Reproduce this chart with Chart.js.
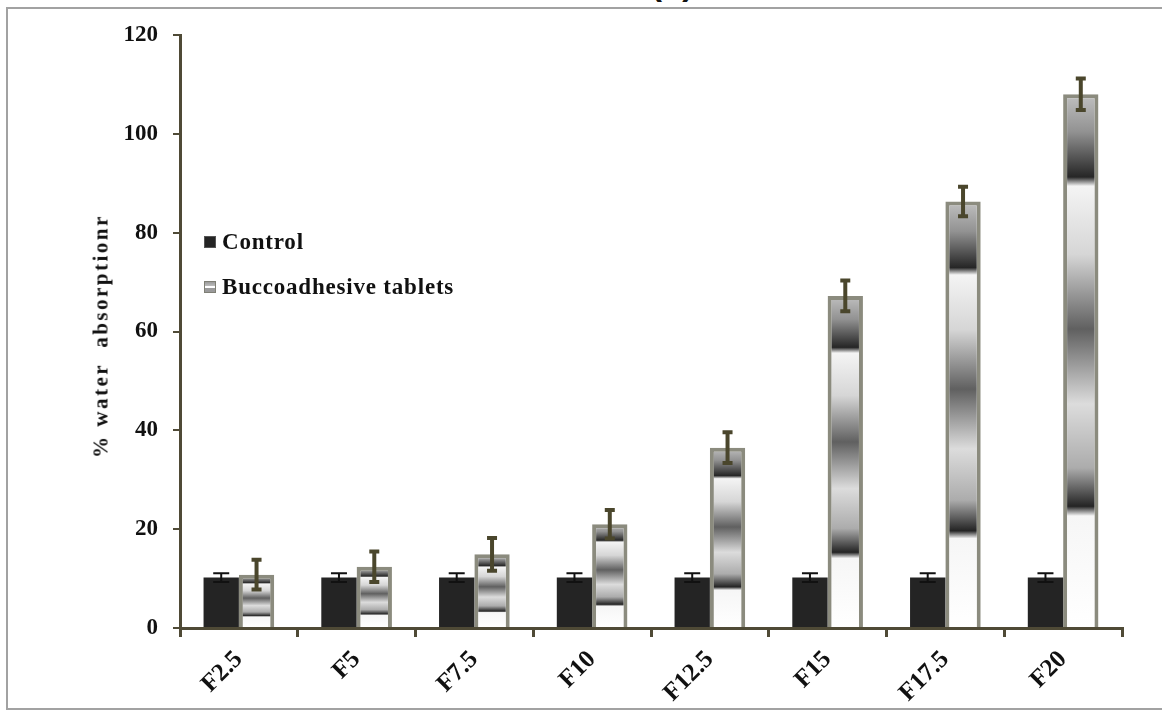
<!DOCTYPE html>
<html>
<head>
<meta charset="utf-8">
<script src="https://cdn.jsdelivr.net/npm/chart.js@4.4.0/dist/chart.umd.min.js"></script>
<style>
  html, body { margin: 0; padding: 0; background: #fff; }
  body { width: 1162px; height: 713px; position: relative; overflow: hidden; }
  #frame { position: absolute; left: 6px; top: 7px; width: 1170px; height: 703px; border: 2px solid #a2a2a2; box-sizing: border-box; }
  #panel { position: absolute; left: 651px; top: -30px; font: bold 33px "Liberation Sans", Arial, sans-serif; line-height: 28px; color: #111; }
  #wrap { position: absolute; left: 0; top: 0; width: 1162px; height: 713px; }
  #ytitle { position: absolute; left: 101px; top: 336px; transform: translate(-50%, -50%) rotate(-90deg);
    white-space: pre; font: bold 21px "Liberation Serif", "Times New Roman", serif; letter-spacing: 2.5px; color: #111; }
  .leg { position: absolute; left: 204px; font: bold 23px "Liberation Serif", "Times New Roman", serif; letter-spacing: 0.8px; color: #111; white-space: nowrap; }
  .leg i { display: inline-block; width: 10px; height: 10px; margin-right: 6px; vertical-align: 1px; }
  #leg1 { top: 229px; }
  #leg2 { top: 274px; }
  #leg1 i { background: #242424; border: 1px solid #555; }
  #leg2 i { background: linear-gradient(#9a9a9a 0, #bdbdbd 40%, #fff 45%, #fff 60%, #9a9a9a 65%); border: 1px solid #7f7f75; }
</style>
</head>
<body>
<div id="frame"></div>
<div id="panel">(b)</div>
<div id="wrap"><canvas id="chart" width="1162" height="713"></canvas></div>
<div id="ytitle">% water  absorptionr</div>
<div class="leg" id="leg1"><i></i>Control</div>
<div class="leg" id="leg2"><i></i>Buccoadhesive tablets</div>
<script>
const categories = ['F2.5', 'F5', 'F7.5', 'F10', 'F12.5', 'F15', 'F17.5', 'F20'];
const controlValues = [10.2, 10.2, 10.2, 10.2, 10.2, 10.2, 10.2, 10.2];
const controlErrors = [0.9, 0.9, 0.9, 0.9, 0.9, 0.9, 0.9, 0.9];
const tabletValues = [10.8, 12.4, 14.9, 21.0, 36.5, 67.2, 86.3, 108.0];
const tabletErrors = [3.0, 3.1, 3.3, 2.9, 3.1, 3.1, 3.0, 3.2];
const yTicks = [0, 20, 40, 60, 80, 100, 120];

const axisColor = '#4f4a36';
const serif = '"Liberation Serif", "Times New Roman", serif';

// banded "cylinder" fill, stretched over each bar from top to bottom
const bandStops = [
  [0, '#c0c0c0'], [0.07, '#929292'], [0.155, '#262626'], [0.172, '#f4f4f4'],
  [0.30, '#d6d6d6'], [0.44, '#606060'], [0.58, '#dcdcdc'], [0.70, '#acacac'],
  [0.772, '#242424'], [0.79, '#f6f6f6'], [1, '#ffffff']
];

function tabletFill(ctx) {
  const chart = ctx.chart;
  if (ctx.type !== 'data' || !chart.chartArea) return '#cccccc';
  const y = chart.scales.y;
  const top = y.getPixelForValue(ctx.raw);
  const bottom = y.getPixelForValue(0);
  const g = chart.ctx.createLinearGradient(0, top, 0, bottom);
  bandStops.forEach(s => g.addColorStop(s[0], s[1]));
  return g;
}

const errorBars = {
  id: 'errorBars',
  afterDatasetsDraw(chart) {
    const c = chart.ctx;
    const y = chart.scales.y;
    const sets = [
      { values: controlValues, errors: controlErrors, color: '#111111', width: 2, cap: 8, capWidth: 2 },
      { values: tabletValues, errors: tabletErrors, color: '#4a462c', width: 4, cap: 5, capWidth: 4 }
    ];
    sets.forEach((s, di) => {
      const meta = chart.getDatasetMeta(di);
      meta.data.forEach((bar, i) => {
        const x = bar.x;
        const yt = y.getPixelForValue(s.values[i] + s.errors[i]);
        const yb = y.getPixelForValue(s.values[i] - s.errors[i]);
        c.save();
        c.strokeStyle = s.color;
        c.lineWidth = s.width;
        c.beginPath();
        c.moveTo(x, yt); c.lineTo(x, yb);
        c.stroke();
        c.lineWidth = s.capWidth;
        c.beginPath();
        c.moveTo(x - s.cap, yt); c.lineTo(x + s.cap, yt);
        c.moveTo(x - s.cap, yb); c.lineTo(x + s.cap, yb);
        c.stroke();
        c.restore();
      });
    });
  }
};

new Chart(document.getElementById('chart'), {
  type: 'bar',
  data: {
    labels: categories,
    datasets: [
      {
        label: 'Control',
        data: controlValues,
        backgroundColor: '#242424',
        borderWidth: 0,
        categoryPercentage: 0.6,
        barPercentage: 1.0
      },
      {
        label: 'Buccoadhesive tablets',
        data: tabletValues,
        backgroundColor: tabletFill,
        borderColor: '#8b8b7e',
        borderWidth: 4,
        categoryPercentage: 0.6,
        barPercentage: 1.0
      }
    ]
  },
  options: {
    responsive: false,
    animation: false,
    layout: { padding: { left: 0, right: 40, top: 35, bottom: 0 } },
    plugins: {
      legend: { display: false },
      tooltip: { enabled: false }
    },
    scales: {
      x: {
        grid: { display: true, drawOnChartArea: false, color: axisColor, lineWidth: 3, tickLength: 9 },
        border: { color: axisColor, width: 3 },
        ticks: {
          color: '#111',
          font: { family: serif, size: 25, weight: 'bold' },
          maxRotation: 45,
          minRotation: 45,
          padding: 8
        },
        afterFit(scale) { scale.height = 85; }
      },
      y: {
        min: 0,
        max: 120,
        afterBuildTicks(scale) { scale.ticks = yTicks.map(v => ({ value: v })); },
        grid: { display: true, drawOnChartArea: false, color: axisColor, lineWidth: 2, tickLength: 7 },
        border: { color: axisColor, width: 3 },
        ticks: {
          color: '#111',
          font: { family: serif, size: 23, weight: 'bold' },
          padding: 15
        },
        afterFit(scale) { scale.width = 180; }
      }
    }
  },
  plugins: [errorBars]
});
</script>
</body>
</html>
